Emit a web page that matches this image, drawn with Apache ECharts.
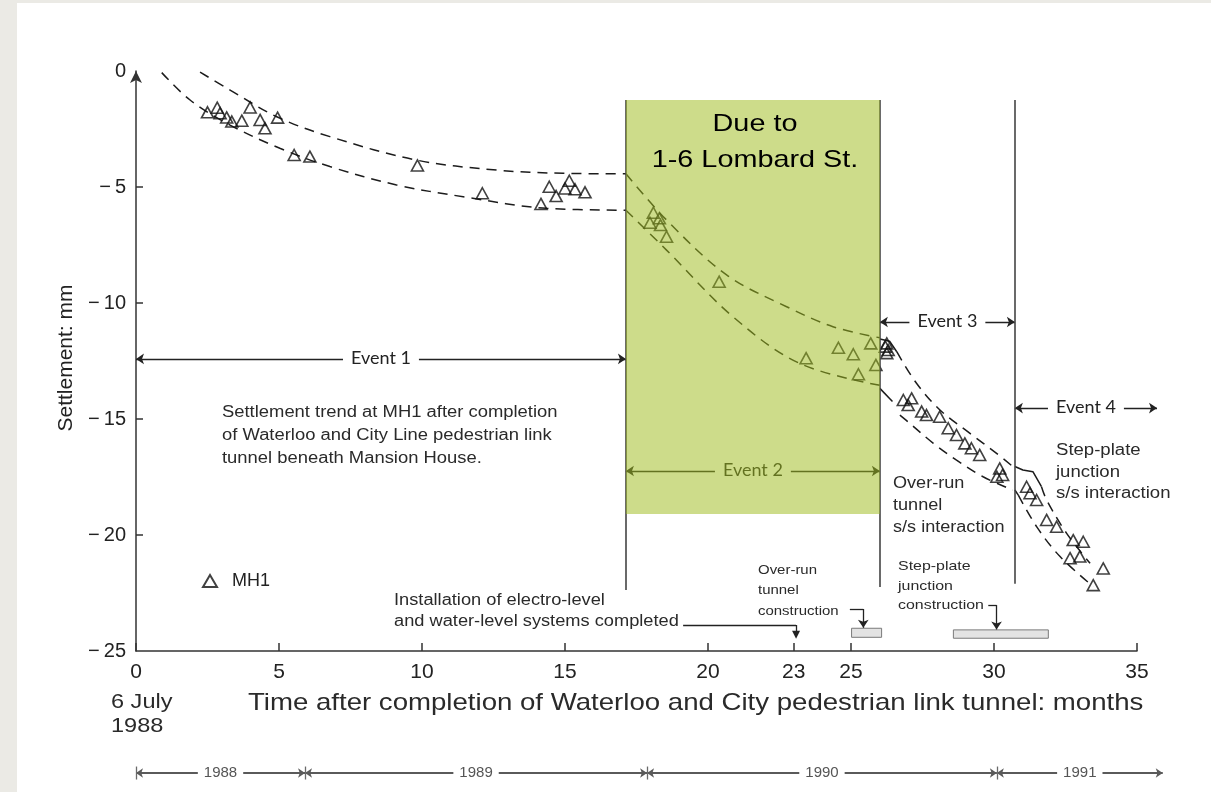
<!DOCTYPE html>
<html>
<head>
<meta charset="utf-8">
<script src="https://cdn.jsdelivr.net/npm/echarts@6/dist/echarts.min.js"></script>
<style>
  html, body { margin: 0; padding: 0; background: #fff; }
  #chart { width: 1211px; height: 792px; }
</style>
</head>
<body>
<div id="chart"></div>
<script>
// Axis ticks
const monthTicks = [0, 5, 10, 15, 20, 23, 25, 30, 35];
const settlementTicks = [-20, -15, -10, -5];

// MH1 readings (months after 6 July 1988, settlement in mm)
const mh1Months = [
  2.50, 2.84, 2.94, 3.17, 3.35, 3.70, 3.99, 4.34, 4.51, 4.95, 5.53, 6.08, 9.84, 12.11,
  14.16, 14.45, 14.69, 15.00, 15.15, 15.35, 15.70,
  17.97, 18.09, 18.30, 18.34, 18.55, 20.39, 23.43, 24.56, 25.08, 25.26, 25.69, 25.87,
  26.20, 26.25, 26.25, 26.30, 26.83, 27.00, 27.12, 27.47, 27.64, 28.10, 28.40, 28.69,
  28.98, 29.21, 29.50, 30.10, 30.20, 30.30,
  31.14, 31.26, 31.49, 31.84, 32.19, 32.77, 33.12, 32.66, 33.00, 33.82, 33.47
];
const mh1Settlement = [
  -1.78, -1.58, -1.82, -2.00, -2.18, -2.14, -1.57, -2.11, -2.47, -2.01, -3.62, -3.69, -4.07, -5.27,
  -5.73, -4.99, -5.39, -5.06, -4.73, -5.10, -5.23,
  -6.54, -6.11, -6.35, -6.64, -7.14, -9.08, -12.38, -11.93, -12.21, -13.07, -11.74, -12.67,
  -11.88, -11.74, -12.16, -12.03, -14.18, -14.40, -14.11, -14.68, -14.83, -14.90, -15.40, -15.69,
  -16.05, -16.26, -16.55, -17.49, -17.13, -17.41,
  -17.92, -18.20, -18.49, -19.35, -19.64, -20.22, -20.29, -21.00, -20.93, -21.44, -22.16
];

// Trend envelopes for each event
const event1Upper = [[2.24, -0.05], [3.29, -0.82], [4.92, -1.97], [6.78, -2.83], [9.81, -3.84], [12.61, -4.27], [14.94, -4.41], [17.13, -4.43]];
const event1Lower = [[0.90, -0.07], [1.89, -1.25], [3.29, -2.33], [5.03, -3.33], [6.78, -4.12], [9.11, -4.91], [11.44, -5.42], [14.36, -5.92], [17.13, -6.00]];
const event2Upper = [[17.13, -4.43], [18.55, -6.42], [20.65, -8.79], [22.75, -10.16], [24.37, -11.02], [26.01, -11.50]];
const event2Lower = [[17.13, -6.00], [18.55, -7.72], [20.87, -10.59], [23.20, -12.60], [26.01, -13.55]];
const event3Upper = [[26.60, -12.10], [27.29, -13.46], [28.11, -14.61], [29.16, -15.62], [30.09, -16.48], [30.66, -17.05]];
const event3Lower = [[26.71, -14.83], [27.06, -15.19], [27.88, -16.05], [28.69, -16.77], [29.62, -17.49], [30.66, -18.06]];
const event4Upper = [[31.66, -17.92], [31.84, -18.49], [32.54, -19.93], [33.36, -21.22]];
const event4Lower = [[30.85, -18.28], [31.49, -19.64], [32.31, -20.93], [33.47, -22.22]];
const event3UpperLead = [[26.01, -11.55], [26.35, -11.65], [26.60, -12.10]];
const event3LowerLead = [[26.01, -13.68], [26.45, -14.25]];
const event4UpperLead = [[30.73, -17.05], [31.01, -17.20], [31.36, -17.27], [31.66, -17.92]];
const event4LowerLead = [[30.73, -18.06], [30.85, -18.28]];

// Event spans
const eventNames = ['Event 1', 'Event 2', 'Event 3', 'Event 4'];
const eventFrom = [0, 17.13, 26.01, 30.73];
const eventTo = [17.13, 26.01, 30.73, 35.7];
const eventLevel = [-12.41, -17.24, -10.82, -14.53];
const boundaryMonths = [17.13, 26.01, 30.73];
const boundaryTop = [-1.25, -1.25, -1.25];
const boundaryBottom = [-22.37, -22.24, -22.10];

// 1-6 Lombard St. influence
const lombardFrom = 17.13;
const lombardTo = 26.01;
const lombardTop = -1.25;
const lombardBottom = -19.1;

// Construction periods
const boxFrom = [25.02, 28.58];
const boxTo = [26.07, 31.90];
const boxTop = [-24.02, -24.09];
const boxBottom = [-24.41, -24.45];

// Calendar years
const yearNames = ['1988', '1989', '1990', '1991'];
const yearStart = [0, 5.91, 17.87, 30.10];
const yearEnd = [5.91, 17.87, 30.10, 35.90];
const yearLevel = -30.26;

const FONT = 'Liberation Sans';

const chart = echarts.init(document.getElementById('chart'));

const grid = { left: 136, right: 74, top: 71, bottom: 141 };
const xAxis = {
  type: 'value', min: 0, max: 35, interval: 5,
  axisLine: { show: true, onZero: false, lineStyle: { color: '#333', width: 1.5 } },
  axisTick: { show: true, inside: true, length: 8, customValues: monthTicks, lineStyle: { color: '#333', width: 1.5 } },
  axisLabel: { customValues: monthTicks, margin: 11, fontFamily: FONT, fontSize: 21, color: '#222' },
  splitLine: { show: false }
};
const yAxis = {
  type: 'value', min: -25, max: 0, interval: 5,
  axisLine: { show: true, onZero: false, symbol: ['none', 'arrow'], symbolSize: [9, 12], lineStyle: { color: '#333', width: 1.5 } },
  axisTick: { show: true, inside: true, length: 7, customValues: settlementTicks, lineStyle: { color: '#333', width: 1.5 } },
  axisLabel: {
    margin: 10, fontFamily: FONT, fontSize: 20, color: '#222',
    formatter: v => v === 0 ? '0' : '\u2212\u2009' + Math.abs(v)
  },
  splitLine: { show: false }
};

// lay out the axes first so annotation positions can be taken from the scales
chart.setOption({ animation: false, grid: grid, xAxis: xAxis, yAxis: yAxis, series: [] });

function px(m, v) {
  const p = chart.convertToPixel({ gridIndex: 0 }, [m, v]);
  return { x: p[0], y: p[1] };
}

function trend(data, dashed) {
  return {
    type: 'line', data: data, smooth: dashed ? 0.35 : 0, symbol: 'none', silent: true, z: 3,
    lineStyle: { color: '#1c1c1c', width: 1.5, type: dashed ? [10, 7] : 'solid' }
  };
}

function seg(a, b, endSymbol) {
  return [
    Object.assign(px(a[0], a[1]), { symbol: 'none', label: { show: false }, lineStyle: { color: '#222', width: 1.3 } }),
    Object.assign(px(b[0], b[1]), { symbol: endSymbol || 'none' })
  ];
}

function text(x, y, str, size, lineHeight, sx, extra) {
  return Object.assign({
    type: 'text', x: x, y: y, z: 100, scaleX: sx || 1,
    style: { text: str, verticalAlign: 'top', lineHeight: lineHeight, font: size + 'px "Liberation Sans"', fill: '#2a2a2a' }
  }, extra || {});
}

const option = {
  backgroundColor: '#ffffff',
  animation: false,
  grid: grid,
  xAxis: xAxis,
  yAxis: yAxis,
  legend: {
    data: ['MH1'], left: 197, top: 567, itemWidth: 14, itemHeight: 12, selectedMode: false,
    textStyle: { fontFamily: FONT, fontSize: 18, color: '#222', padding: [0, 0, 0, 10] }
  },
  graphic: {
    elements: [
      { type: 'rect', left: 0, top: 0, z: 100, shape: { width: 17, height: 792 }, style: { fill: '#ebeae5' } },
      { type: 'rect', left: 0, top: 0, z: 100, shape: { width: 1211, height: 3 }, style: { fill: '#ebeae5' } },
      { type: 'text', x: 66, y: 358, rotation: Math.PI / 2, z: 100,
        style: { text: 'Settlement: mm', align: 'center', verticalAlign: 'middle', font: '21px "Liberation Sans"', fill: '#222' } },
      text(248, 690, 'Time after completion of Waterloo and City pedestrian link tunnel: months', 24, 26, 1.15, {}),
      text(111, 690, '6 July\n1988', 21, 24, 1.12, {}),
      text(222, 401, 'Settlement trend at MH1 after completion\nof Waterloo and City Line pedestrian link\ntunnel beneath Mansion House.', 16, 23, 1.15),
      text(893, 473, 'Over-run\ntunnel\ns/s interaction', 16, 22, 1.13),
      text(1056, 440, 'Step-plate\njunction\ns/s interaction', 16, 21.5, 1.16),
      text(394, 590, 'Installation of electro-level\nand water-level systems completed', 16, 21, 1.14),
      text(758, 560, 'Over-run\ntunnel\nconstruction', 13, 20.5, 1.15),
      text(898, 557, 'Step-plate\njunction\nconstruction', 13.5, 19.5, 1.18),
      { type: 'text', x: 755, y: 142, z: 100, scaleX: 1.2,
        style: { text: 'Due to\n1-6 Lombard St.', align: 'center', verticalAlign: 'middle', lineHeight: 36, font: '24px "Liberation Sans"', fill: '#000' } }
    ]
  },
  series: [
    trend(event1Upper, true), trend(event1Lower, true),
    trend(event2Upper, true), trend(event2Lower, true),
    trend(event3Upper, true), trend(event3Lower, true),
    trend(event4Upper, true), trend(event4Lower, true),
    trend(event3UpperLead, false), trend(event3LowerLead, false),
    trend(event4UpperLead, false), trend(event4LowerLead, false),
    {
      name: 'MH1', type: 'scatter', z: 4,
      data: mh1Months.map((m, i) => [m, mh1Settlement[i]]),
      symbol: 'triangle', symbolSize: [12, 11],
      itemStyle: { color: 'rgba(255,255,255,0)', borderColor: '#111', borderWidth: 1.6 }
    },
    {
      // event spans, boundaries and leaders
      type: 'line', data: [], clip: false, silent: true,
      markLine: {
        silent: true, animation: false, z: 5,
        symbol: ['arrow', 'arrow'], symbolSize: [8, 8],
        lineStyle: { color: '#222', width: 1.4, type: 'solid' },
        label: {
          show: true, position: 'middle', formatter: '{b}', distance: [0, -9],
          backgroundColor: '#fff', padding: [1, 8], lineHeight: 18,
          fontFamily: 'Lato', fontSize: 18, color: '#222'
        },
        data: eventNames.map((n, i) => [
          Object.assign(px(eventFrom[i], eventLevel[i]), { name: n }),
          px(eventTo[i], eventLevel[i])
        ]).concat(boundaryMonths.map((m, i) => [
          Object.assign(px(m, boundaryTop[i]), { symbol: 'none', label: { show: false }, lineStyle: { color: '#444', width: 1.6 } }),
          Object.assign(px(m, boundaryBottom[i]), { symbol: 'none' })
        ])).concat([
          seg([19.13, -23.88], [23.08, -23.88]),
          seg([23.08, -23.88], [23.08, -24.30], 'triangle'),
          seg([24.96, -23.19], [25.43, -23.19]),
          seg([25.43, -23.19], [25.43, -24.0], 'arrow'),
          seg([29.80, -23.02], [30.09, -23.02]),
          seg([30.09, -23.02], [30.09, -24.07], 'arrow')
        ])
      }
    },
    {
      // construction periods
      type: 'line', data: [], clip: false, silent: true,
      markArea: {
        silent: true, z: 4,
        itemStyle: { color: '#e3e3e3', borderColor: '#7a7a7a', borderWidth: 1 },
        label: { show: false },
        data: boxFrom.map((f, i) => [{ coord: [f, boxTop[i]] }, { coord: [boxTo[i], boxBottom[i]] }])
      }
    },
    {
      // calendar years
      type: 'line', data: [], clip: false, silent: true,
      markLine: {
        silent: true, animation: false, z: 5,
        symbol: ['arrow', 'arrow'], symbolSize: [7, 7],
        lineStyle: { color: '#5a5a5a', width: 2, type: 'solid' },
        label: {
          show: true, position: 'middle', formatter: '{b}', distance: [0, -8],
          backgroundColor: '#fff', padding: [0, 6], lineHeight: 16,
          fontFamily: FONT, fontSize: 15, color: '#555'
        },
        data: yearNames.map((n, i) => [
          Object.assign(px(yearStart[i], yearLevel), { name: n }),
          px(yearEnd[i], yearLevel)
        ]).concat(yearStart.map(s => [
          Object.assign(px(s, yearLevel + 0.28), { symbol: 'none', label: { show: false }, lineStyle: { color: '#6a6a6a', width: 1.3 } }),
          Object.assign(px(s, yearLevel - 0.28), { symbol: 'none' })
        ]))
      }
    },
    {
      // 1-6 Lombard St. influence zone
      type: 'line', data: [], clip: false, silent: true,
      markArea: {
        silent: true, z: 20,
        itemStyle: { color: 'rgba(160,188,30,0.52)' },
        label: { show: false },
        data: [[{ coord: [lombardFrom, lombardTop] }, { coord: [lombardTo, lombardBottom] }]]
      }
    }
  ]
};

chart.setOption(option, true);
</script>
</body>
</html>
